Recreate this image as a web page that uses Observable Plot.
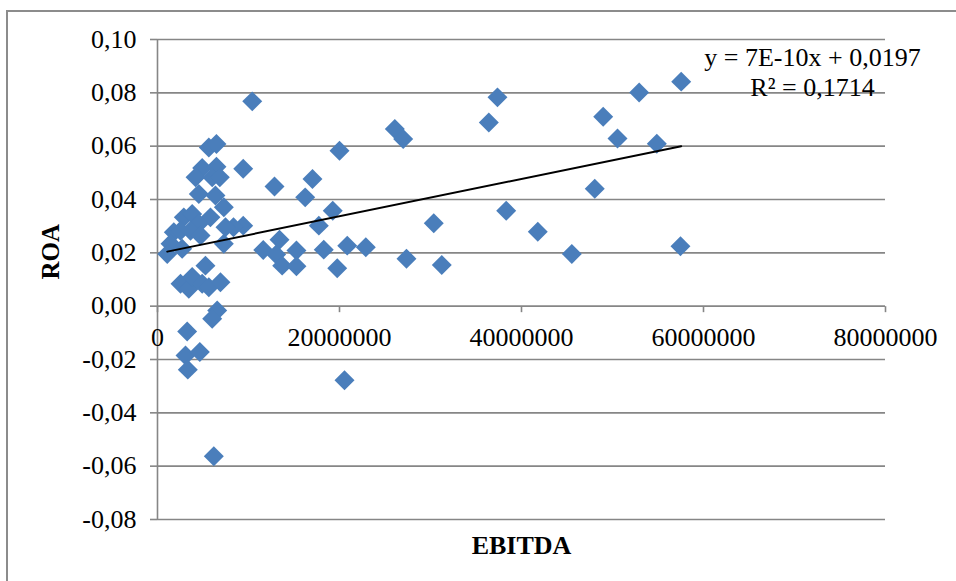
<!DOCTYPE html>
<html><head><meta charset="utf-8">
<script src="https://cdn.jsdelivr.net/npm/d3@7"></script>
<script src="https://cdn.jsdelivr.net/npm/@observablehq/plot@0.6"></script>
<style>
html,body{margin:0;padding:0;background:#fff;overflow:hidden;width:956px;height:581px;}
#chart{position:absolute;left:0;top:0;}
#frame{position:absolute;left:6px;top:10px;width:980px;height:600px;border-left:2px solid #8c8c8c;border-top:2px solid #8c8c8c;pointer-events:none;}
</style></head><body>
<div id="chart"></div><div id="frame"></div>
<script>
// EBITDA values (x)
const ebitda = [
  37360000, 36410000, 48980000, 52930000, 57550000, 50550000, 54870000, 48050000, 38320000, 30360000,
  41790000, 31240000, 45530000, 57470000, 10410000, 26080000, 27000000, 20000000, 9420000, 12860000,
  17030000, 16230000, 19260000, 17730000, 9420000, 8350000, 11620000, 13410000, 13040000, 13700000,
  15270000, 15270000, 18270000, 19750000, 20850000, 22890000, 27360000, 20550000, 5640000, 6480000,
  4910000, 6480000, 4180000, 6010000, 6850000, 4540000, 6370000, 7290000, 5820000, 2890000,
  3810000, 4540000, 1790000, 2530000, 3630000, 4730000, 7470000, 1430000, 2710000, 7290000,
  1070000, 5270000, 2530000, 3440000, 3810000, 4910000, 5640000, 6920000, 6560000, 6010000,
  3260000, 3080000, 4650000, 3330000, 6190000
];
// ROA values (y)
const roa = [
  0.0783, 0.0689, 0.0710, 0.0801, 0.0842, 0.0629, 0.0609, 0.0440, 0.0358, 0.0311,
  0.0279, 0.0154, 0.0196, 0.0225, 0.0768, 0.0664, 0.0627, 0.0583, 0.0515, 0.0449,
  0.0477, 0.0408, 0.0358, 0.0302, 0.0302, 0.0296, 0.0211, 0.0249, 0.0194, 0.0152,
  0.0209, 0.0150, 0.0212, 0.0142, 0.0227, 0.0221, 0.0178, -0.0278, 0.0595, 0.0608,
  0.0518, 0.0523, 0.0483, 0.0483, 0.0483, 0.0421, 0.0415, 0.0371, 0.0333, 0.0333,
  0.0346, 0.0309, 0.0277, 0.0283, 0.0283, 0.0265, 0.0296, 0.0234, 0.0215, 0.0234,
  0.0196, 0.0152, 0.0084, 0.0065, 0.0109, 0.0084, 0.0071, 0.0090, -0.0016, -0.0047,
  -0.0095, -0.0185, -0.0172, -0.0238, -0.0563
];
const xTicks = [0, 20000000, 40000000, 60000000, 80000000];
const yTicks = [-0.08, -0.06, -0.04, -0.02, 0, 0.02, 0.04, 0.06, 0.08, 0.10];
const trendSlope = 7e-10;
const trendIntercept = 0.0197;
const equationLine1 = "y = 7E-10x + 0,0197";
const equationLine2 = "R² = 0,1714";
const xTitle = "EBITDA";
const yTitle = "ROA";

const points = ebitda.map((x, i) => ({x, y: roa[i]}));
const trendX = [d3.min(ebitda), d3.max(ebitda)];
const loc = d3.formatLocale({decimal: ",", thousands: ".", grouping: [3], currency: ["", ""], minus: "-"});
const yFmt = loc.format(".2f");
const xFmt = d3.format("d");
const gray = "#868686";
const font = "'Liberation Serif', 'Times New Roman', serif";
const tickDown = {draw(ctx) { ctx.moveTo(0, 0); ctx.lineTo(0, 6); }};

const chart = Plot.plot({
  width: 956,
  height: 581,
  marginLeft: 157,
  marginRight: 71,
  marginTop: 39,
  marginBottom: 62,
  style: {fontFamily: font, fontSize: "26px", color: "black", background: "transparent"},
  x: {domain: [0, 80000000], axis: null},
  y: {domain: [-0.08, 0.10]},
  marks: [
    Plot.ruleY(yTicks, {y: d => d, stroke: gray, strokeWidth: 1.6}),
    Plot.ruleX([0], {x: d => d, stroke: gray, strokeWidth: 1.6}),
    Plot.axisY(yTicks, {anchor: "left", tickSize: 7, tickPadding: 14, tickFormat: yFmt, stroke: gray, strokeWidth: 1.6, fill: "black", fontSize: 26, label: null}),
    Plot.dot(xTicks, {x: d => d, y: () => 0, symbol: tickDown, stroke: gray, strokeWidth: 1.6, fill: "none"}),
    Plot.text(xTicks, {x: d => d, y: () => 0, text: d => xFmt(d), dy: 32, lineAnchor: "middle", fontSize: 26, fill: "black"}),
    Plot.dot(points, {x: "x", y: "y", symbol: "diamond2", r: 9, fill: "#4a7ebb", stroke: "none"}),
    Plot.line(trendX, {x: d => d, y: d => trendSlope * d + trendIntercept, stroke: "black", strokeWidth: 2}),
    Plot.text([equationLine1], {frameAnchor: "top-right", text: d => d, dx: -73, dy: 18, textAnchor: "middle", lineAnchor: "middle", fontSize: 26, fill: "black"}),
    Plot.text([equationLine2], {frameAnchor: "top-right", text: d => d, dx: -73, dy: 48, textAnchor: "middle", lineAnchor: "middle", fontSize: 26, fill: "black"}),
    Plot.text([xTitle], {frameAnchor: "bottom", text: d => d, dy: 26, lineAnchor: "middle", fontSize: 26, fontWeight: "bold", fill: "black"}),
    Plot.text([yTitle], {frameAnchor: "left", text: d => d, dx: -107, rotate: -90, lineAnchor: "middle", fontSize: 25, fontWeight: "bold", fill: "black"})
  ]
});
document.getElementById("chart").append(chart);
</script>
</body></html>
